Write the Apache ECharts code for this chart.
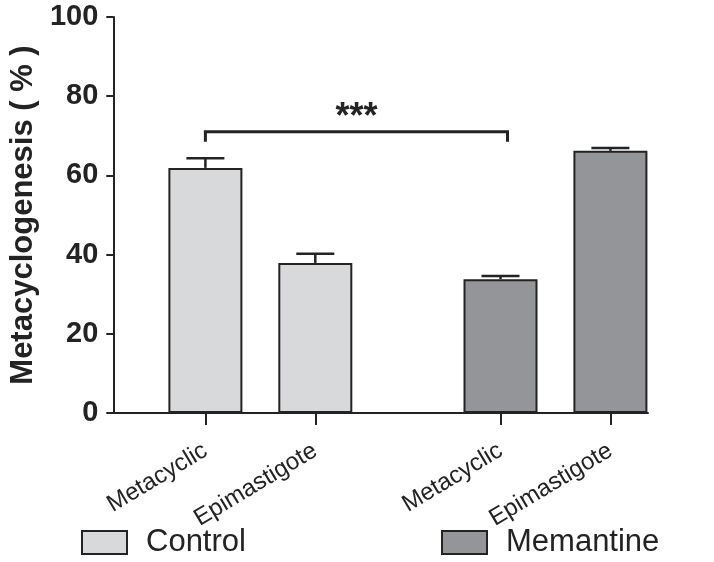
<!DOCTYPE html>
<html><head><meta charset="utf-8">
<script src="https://cdn.jsdelivr.net/npm/echarts@6/dist/echarts.min.js"></script>
<style>html,body{margin:0;padding:0;background:#fff}#c{width:714px;height:562px}</style>
</head><body><div id="c"></div>
<script>
// ---- data ----
const groups = ['Control', 'Memantine'];
const stages = ['Metacyclic', 'Epimastigote'];
const controlValues = [61.9, 37.9];
const controlErrors = [2.4, 2.3];
const memantineValues = [33.8, 66.2];
const memantineErrors = [0.8, 0.7];
const yTickLabels = ['0', '20', '40', '60', '80', '100'];
const sigFrom = [0, 0];   // [group, stage]
const sigTo = [1, 0];
const sigLevel = 71;
const sigLabel = '***';

// ---- layout ----
const GROUP_GAP = 2.685;
const xOf = (g, s) => 1 + g * GROUP_GAP + s;
const FONT = '"Liberation Sans", Arial, sans-serif';
const INK = '#232323';
const fills = ['#d8d9db', '#939598'];
const valuesByGroup = [controlValues, memantineValues];
const errorsByGroup = [controlErrors, memantineErrors];

const tickXs = [];
const tickNames = {};
groups.forEach((g, gi) => stages.forEach((s, si) => {
  const x = xOf(gi, si); tickXs.push(x); tickNames[x.toFixed(3)] = s;
}));

const barSeries = groups.map((g, gi) => ({
  name: g, type: 'bar', barWidth: 74, barGap: '-100%',
  itemStyle: { color: fills[gi], borderColor: INK, borderWidth: 2 },
  data: valuesByGroup[gi].map((v, si) => [xOf(gi, si), v]),
  z: 2
}));

const errData = [];
groups.forEach((g, gi) => valuesByGroup[gi].forEach((v, si) => errData.push([xOf(gi, si), v, errorsByGroup[gi][si]])));

const errSeries = {
  type: 'custom', name: 'err', z: 3,
  encode: { x: 0, y: 1 },
  data: errData,
  renderItem(params, api) {
    const x = api.value(0), y = api.value(1), e = api.value(2);
    const b = api.coord([x, y]), t = api.coord([x, y + e]);
    const hw = 19, st = { stroke: INK, lineWidth: 2.5 };
    return { type: 'group', children: [
      { type: 'line', shape: { x1: b[0], y1: b[1], x2: t[0], y2: t[1] }, style: st },
      { type: 'line', shape: { x1: t[0] - hw, y1: t[1], x2: t[0] + hw, y2: t[1] }, style: st }
    ] };
  }
};

const sigSeries = {
  type: 'custom', name: 'sig', z: 4,
  encode: { x: [0, 1], y: 2 },
  data: [[xOf(sigFrom[0], sigFrom[1]), xOf(sigTo[0], sigTo[1]), sigLevel]],
  renderItem(params, api) {
    const a = api.coord([api.value(0), api.value(2)]);
    const b = api.coord([api.value(1), api.value(2)]);
    const drop = 10, bx = b[0] + 7;
    return { type: 'group', children: [
      { type: 'polyline', shape: { points: [[a[0], a[1] + drop], [a[0], a[1]], [bx, a[1]], [bx, a[1] + drop]] },
        style: { stroke: INK, lineWidth: 3, fill: null, lineJoin: 'miter' } },
      { type: 'text', x: (a[0] + bx) / 2, y: a[1] + 4,
        style: { text: sigLabel, font: 'bold 36px ' + FONT, fill: INK, align: 'center', verticalAlign: 'bottom' } }
    ] };
  }
};

const legendCommon = {
  orient: 'horizontal', itemWidth: 45, itemHeight: 23, icon: 'rect',
  textStyle: { fontSize: 31, color: INK, fontFamily: FONT, padding: [0, 0, 0, 14] },
  selectedMode: false
};

const option = {
  animation: false,
  backgroundColor: '#fff',
  grid: { left: 108, right: 66, top: 17, bottom: 149, containLabel: false },
  legend: [
    Object.assign({}, legendCommon, { data: [groups[0]], left: 76, top: 522 }),
    Object.assign({}, legendCommon, { data: [groups[1]], left: 436, top: 522 })
  ],
  xAxis: {
    type: 'value', min: 0.162, max: 5.027,
    splitLine: { show: false },
    axisLine: { show: true, onZero: false, lineStyle: { color: INK, width: 2 } },
    axisTick: { show: true, customValues: tickXs, length: 12, lineStyle: { color: INK, width: 2 } },
    axisLabel: {
      customValues: tickXs, rotate: 31, margin: 36, fontSize: 24, color: INK, fontFamily: FONT,
      formatter: v => tickNames[Number(v).toFixed(3)] || ''
    }
  },
  yAxis: {
    type: 'value', min: 0, max: 100, interval: 20,
    splitLine: { show: false },
    axisLine: { show: true, lineStyle: { color: INK, width: 2 } },
    axisTick: { show: true, length: 7, lineStyle: { color: INK, width: 2 } },
    axisLabel: {
      fontSize: 29, fontWeight: 'bold', color: INK, fontFamily: FONT, margin: 15,
      formatter: v => yTickLabels[Math.round(v / 20)]
    },
    name: 'Metacyclogenesis ( % )', nameLocation: 'middle', nameRotate: 90, nameGap: 74,
    nameTextStyle: { fontSize: 31, fontWeight: 'bold', color: INK, fontFamily: FONT }
  },
  series: [...barSeries, errSeries, sigSeries]
};

const chart = echarts.init(document.getElementById('c'), null, { renderer: 'canvas' });
chart.setOption(option);
</script>
</body></html>
